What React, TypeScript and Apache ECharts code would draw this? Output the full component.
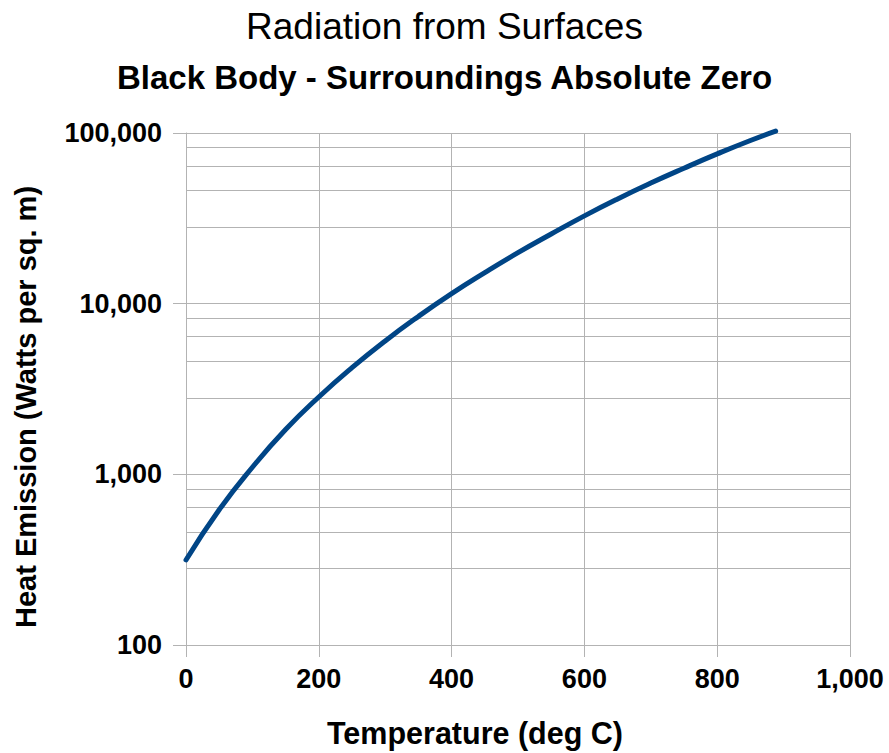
import React, { useEffect, useRef } from "react";
import * as echarts from "echarts";

const temperatures = [0, 50, 100, 150, 200, 250, 300, 350, 400, 450, 500, 550, 600, 650, 700, 750, 800, 850, 888];
const emission = [315, 620, 1100, 1830, 2840, 4220, 6050, 8420, 11450, 15200, 19900, 25600, 32700, 41100, 50900, 62200, 75400, 90400, 102500];
const minorGridValues = [280, 460, 640, 820, 2800, 4600, 6400, 8200, 28000, 46000, 64000, 82000];

const titleText = "Radiation from Surfaces";
const subtitleText = "Black Body - Surroundings Absolute Zero";
const xName = "Temperature (deg C)";
const yName = "Heat Emission (Watts per sq. m)";

const FONT = "Liberation Sans, Arial, sans-serif";
const GRID = "#b3b3b3";

export default function App() {
  const ref = useRef<HTMLDivElement>(null);
  useEffect(() => {
    if (!ref.current) return;
    const chart = echarts.init(ref.current, undefined, { renderer: "svg" });
    const fmt = (v: number) => Math.round(v).toLocaleString("en-US");
    chart.setOption({
      animation: false,
      backgroundColor: "#ffffff",
      title: [
        {
          text: titleText,
          left: "center",
          top: 3,
          textStyle: { fontFamily: FONT, fontSize: 37, fontWeight: "normal", color: "#000" },
        },
        {
          text: subtitleText,
          left: "center",
          top: 56,
          textStyle: { fontFamily: FONT, fontSize: 33, fontWeight: "bold", color: "#000" },
        },
      ],
      grid: { left: 186, right: 39, top: 133, bottom: 106, containLabel: false },
      xAxis: {
        type: "value",
        min: 0,
        max: 1000,
        interval: 200,
        name: xName,
        nameLocation: "middle",
        nameGap: 72,
        nameTextStyle: {
          fontFamily: FONT,
          fontSize: 30.5,
          fontWeight: "bold",
          color: "#000",
          padding: [0, 86, 0, 0],
        },
        axisLine: { show: true, lineStyle: { color: GRID, width: 1 } },
        axisTick: { show: true, length: 12, lineStyle: { color: GRID } },
        axisLabel: {
          margin: 20,
          formatter: fmt,
          fontFamily: FONT,
          fontSize: 27,
          fontWeight: "bold",
          color: "#000",
        },
        splitLine: { show: true, lineStyle: { color: GRID, width: 1 } },
      },
      yAxis: {
        type: "log",
        logBase: 10,
        min: 100,
        max: 100000,
        name: yName,
        nameLocation: "middle",
        nameGap: 146,
        nameTextStyle: {
          fontFamily: FONT,
          fontSize: 29,
          fontWeight: "bold",
          color: "#000",
          padding: [0, 36, 0, 0],
        },
        axisLine: { show: true, lineStyle: { color: GRID, width: 1 } },
        axisTick: { show: true, length: 13, lineStyle: { color: GRID } },
        axisLabel: {
          margin: 24,
          formatter: fmt,
          fontFamily: FONT,
          fontSize: 27,
          fontWeight: "bold",
          color: "#000",
        },
        splitLine: { show: true, lineStyle: { color: GRID, width: 1 } },
        minorTick: { show: false },
        minorSplitLine: { show: false },
      },
      series: [
        {
          type: "line",
          data: temperatures.map((t, i) => [t, emission[i]]),
          smooth: true,
          clip: false,
          showSymbol: false,
          symbol: "none",
          z: 3,
          lineStyle: { color: "#004586", width: 5, cap: "round" },
          emphasis: { disabled: true },
          markLine: {
            silent: true,
            z: 1,
            symbol: "none",
            label: { show: false },
            lineStyle: { color: GRID, type: "solid", width: 1 },
            emphasis: { disabled: true },
            data: minorGridValues.map((v) => ({ yAxis: v })),
          },
        },
      ],
    });
    return () => chart.dispose();
  }, []);
  return (
    <div
      ref={ref}
      style={{ position: "fixed", left: 0, top: 0, width: 889, height: 753, background: "#fff" }}
    />
  );
}
